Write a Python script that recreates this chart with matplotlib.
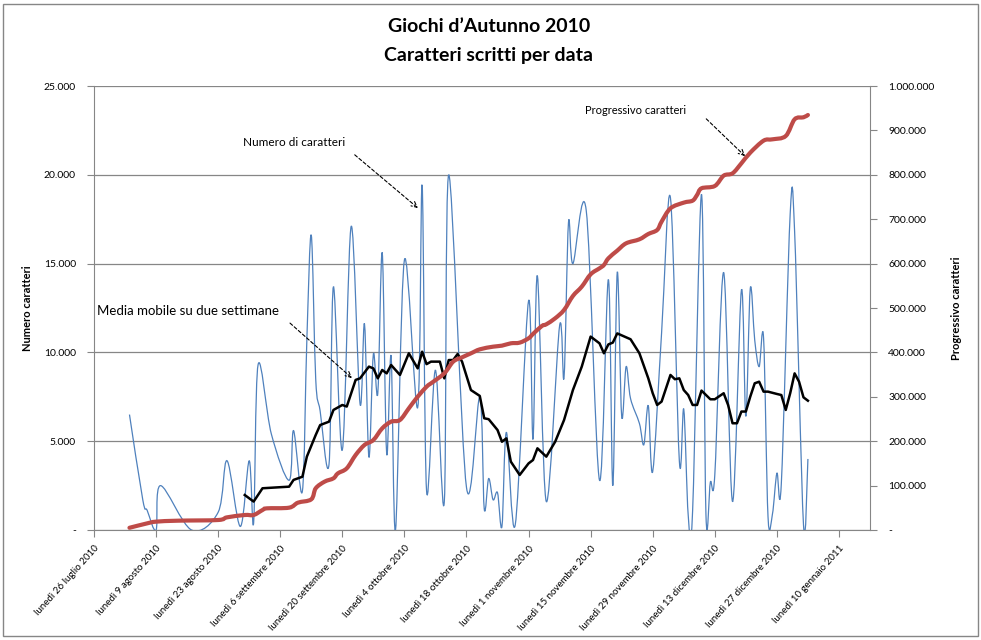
import matplotlib
matplotlib.use("Agg")
import matplotlib.pyplot as plt
import matplotlib.dates as mdates
from matplotlib.path import Path
from matplotlib.patches import PathPatch, Rectangle
from matplotlib.ticker import FuncFormatter, MultipleLocator
import numpy as np
import pandas as pd

plt.rcParams['font.family'] = ['Lato', 'DejaVu Sans']

# daily characters written
num_dates = [
    "2010-08-03", "2010-08-06", "2010-08-07", "2010-08-09", "2010-08-10", "2010-08-17",
    "2010-08-23", "2010-08-25", "2010-08-28", "2010-08-30", "2010-08-31", "2010-09-01",
    "2010-09-04", "2010-09-08", "2010-09-09", "2010-09-11", "2010-09-12", "2010-09-13",
    "2010-09-14", "2010-09-15", "2010-09-17", "2010-09-18", "2010-09-20", "2010-09-22",
    "2010-09-24", "2010-09-25", "2010-09-26", "2010-09-27", "2010-09-28", "2010-09-29",
    "2010-09-30", "2010-10-01", "2010-10-02", "2010-10-04", "2010-10-07", "2010-10-08",
    "2010-10-09", "2010-10-11", "2010-10-13", "2010-10-14", "2010-10-18", "2010-10-21",
    "2010-10-22", "2010-10-23", "2010-10-24", "2010-10-25", "2010-10-26", "2010-10-27",
    "2010-10-29", "2010-11-01", "2010-11-02", "2010-11-03", "2010-11-05", "2010-11-08",
    "2010-11-09", "2010-11-10", "2010-11-11", "2010-11-14", "2010-11-17", "2010-11-19",
    "2010-11-20", "2010-11-21", "2010-11-22", "2010-11-23", "2010-11-24", "2010-11-26",
    "2010-11-27", "2010-11-28", "2010-11-29", "2010-12-01", "2010-12-03", "2010-12-05",
    "2010-12-06", "2010-12-07", "2010-12-08", "2010-12-10", "2010-12-11", "2010-12-12",
    "2010-12-13", "2010-12-15", "2010-12-17", "2010-12-19", "2010-12-20", "2010-12-21",
    "2010-12-22", "2010-12-23", "2010-12-24", "2010-12-25", "2010-12-26", "2010-12-27",
    "2010-12-28", "2010-12-30", "2010-12-31", "2011-01-02", "2011-01-03",
]
num_values = [
    6500, 1700, 1100, 0, 2500, 0,
    1000, 3900, 200, 3900, 400, 9300,
    5400, 2800, 5600, 2200, 10700, 16600,
    8500, 6700, 3700, 13700, 4500, 17100,
    7100, 11600, 4100, 9900, 7700, 15600,
    4300, 9800, 0, 15200, 6900, 19400,
    2200, 9000, 1600, 20000, 2400, 7500,
    1200, 2900, 1700, 2100, 200, 5500,
    300, 12900, 5100, 14300, 1600, 11500,
    8600, 17300, 15000, 18000, 2800, 14100,
    2500, 14500, 6400, 9200, 7400, 6000,
    4800, 7000, 3300, 11100, 18700, 3900,
    6800, 850, 1100, 18900, 900, 2700,
    3100, 14500, 1600, 13500, 6400, 13600,
    10700, 9200, 10800, 750, 900, 3200,
    2600, 17800, 16800, 300, 4000,
]

# two-week moving average
avg_dates = [
    "2010-08-29", "2010-08-31", "2010-09-02", "2010-09-08", "2010-09-09", "2010-09-11",
    "2010-09-12", "2010-09-14", "2010-09-15", "2010-09-17", "2010-09-18", "2010-09-20",
    "2010-09-21", "2010-09-23", "2010-09-24", "2010-09-26", "2010-09-27", "2010-09-28",
    "2010-09-29", "2010-09-30", "2010-10-01", "2010-10-03", "2010-10-05", "2010-10-07",
    "2010-10-08", "2010-10-09", "2010-10-10", "2010-10-12", "2010-10-13", "2010-10-14",
    "2010-10-15", "2010-10-16", "2010-10-17", "2010-10-19", "2010-10-21", "2010-10-22",
    "2010-10-23", "2010-10-25", "2010-10-26", "2010-10-27", "2010-10-28", "2010-10-30",
    "2010-11-01", "2010-11-02", "2010-11-03", "2010-11-05", "2010-11-07", "2010-11-09",
    "2010-11-11", "2010-11-13", "2010-11-15", "2010-11-17", "2010-11-18", "2010-11-19",
    "2010-11-20", "2010-11-21", "2010-11-24", "2010-11-26", "2010-11-28", "2010-11-29",
    "2010-11-30", "2010-12-01", "2010-12-03", "2010-12-04", "2010-12-05", "2010-12-06",
    "2010-12-07", "2010-12-08", "2010-12-09", "2010-12-10", "2010-12-12", "2010-12-13",
    "2010-12-15", "2010-12-16", "2010-12-17", "2010-12-18", "2010-12-19", "2010-12-20",
    "2010-12-21", "2010-12-22", "2010-12-23", "2010-12-24", "2010-12-25", "2010-12-27",
    "2010-12-28", "2010-12-29", "2010-12-30", "2010-12-31", "2011-01-01", "2011-01-02",
    "2011-01-03",
]
avg_values = [
    1970, 1600, 2350, 2440, 2820, 3000,
    4130, 5350, 5910, 6100, 6760, 7040,
    6950, 8450, 8540, 9200, 9100, 8540,
    9010, 8820, 9290, 8730, 9950, 9100,
    10040, 9340, 9480, 9480, 8540, 9570,
    9570, 9910, 9480, 7880, 7550, 6290,
    6240, 5630, 4970, 5160, 3850, 3100,
    3750, 3940, 4600, 4130, 4970, 6190,
    7880, 9200, 10890, 10510, 9950, 10450,
    10550, 11070, 10740, 9950, 8540, 7700,
    7040, 7230, 8730, 8490, 8540, 7880,
    7600, 7040, 7040, 7850, 7360, 7360,
    7700, 7040, 6010, 6010, 6670, 6670,
    7510, 8260, 8350, 7790, 7790, 7660,
    7600, 6760, 7700, 8820, 8350, 7470,
    7280,
]

# running total of characters
tot_dates = [
    "2010-08-03", "2010-08-07", "2010-08-09", "2010-08-14", "2010-08-23", "2010-08-25",
    "2010-08-29", "2010-08-31", "2010-09-02", "2010-09-03", "2010-09-08", "2010-09-10",
    "2010-09-13", "2010-09-14", "2010-09-16", "2010-09-18", "2010-09-19", "2010-09-21",
    "2010-09-23", "2010-09-25", "2010-09-27", "2010-09-29", "2010-10-01", "2010-10-03",
    "2010-10-05", "2010-10-07", "2010-10-09", "2010-10-10", "2010-10-13", "2010-10-15",
    "2010-10-17", "2010-10-19", "2010-10-21", "2010-10-24", "2010-10-26", "2010-10-28",
    "2010-10-30", "2010-11-01", "2010-11-02", "2010-11-04", "2010-11-05", "2010-11-07",
    "2010-11-09", "2010-11-11", "2010-11-13", "2010-11-15", "2010-11-17", "2010-11-18",
    "2010-11-19", "2010-11-21", "2010-11-23", "2010-11-26", "2010-11-28", "2010-11-30",
    "2010-12-01", "2010-12-03", "2010-12-06", "2010-12-08", "2010-12-09", "2010-12-10",
    "2010-12-13", "2010-12-15", "2010-12-17", "2010-12-19", "2010-12-21", "2010-12-24",
    "2010-12-26", "2010-12-29", "2010-12-31", "2011-01-02", "2011-01-03",
]
tot_values = [
    5000, 15000, 18800, 21000, 22500, 28500,
    33800, 33800, 45000, 48800, 50300, 61600,
    69100, 93900, 108900, 116400, 127600, 138900,
    168900, 191500, 202700, 229000, 244000, 247800,
    274000, 300300, 322800, 330300, 352900, 379200,
    388900, 397900, 406900, 412900, 415200, 420500,
    422000, 431700, 441500, 459500, 463300, 476800,
    495500, 527100, 548100, 575900, 589400, 596900,
    611900, 629200, 645700, 654700, 666700, 675700,
    694500, 724500, 737300, 741800, 754600, 769600,
    774800, 798100, 803300, 825900, 849900, 876900,
    879900, 887400, 925000, 929500, 934700,
]

tick_labels = [
    "lunedì 26 luglio 2010", "lunedì 9 agosto 2010", "lunedì 23 agosto 2010",
    "lunedì 6 settembre 2010", "lunedì 20 settembre 2010", "lunedì 4 ottobre 2010",
    "lunedì 18 ottobre 2010", "lunedì 1 novembre 2010", "lunedì 15 novembre 2010",
    "lunedì 29 novembre 2010", "lunedì 13 dicembre 2010", "lunedì 27 dicembre 2010",
    "lunedì 10 gennaio 2011",
]

GRID = '#868686'
BLUE = '#4F81BD'
RED = '#BE4B48'


def smooth_path(x, y):
    """Excel-like smoothed line as a chain of cubic Bezier segments"""
    pts = np.column_stack([x, y])
    n = len(pts)
    verts = [pts[0]]
    codes = [Path.MOVETO]
    for i in range(n - 1):
        p0 = pts[i - 1] if i > 0 else pts[i]
        p1 = pts[i]
        p2 = pts[i + 1]
        p3 = pts[i + 2] if i + 2 < n else pts[i + 1]
        verts += [p1 + (p2 - p0) / 6, p2 - (p3 - p1) / 6, p2]
        codes += [Path.CURVE4] * 3
    return Path(verts, codes)


def it_thousands(v, pos):
    if abs(v) < 1e-9:
        return '-'
    return f"{int(round(v)):,}".replace(',', '.')


fig = plt.figure(figsize=(9.81, 6.4), dpi=100)
ax = fig.add_axes([94 / 981, 1 - 530 / 640, 776 / 981, 444 / 640])
ax2 = ax.twinx()

# frame around the whole chart
fig.patches.append(Rectangle((3 / 981, 4 / 640), 975 / 981, 632 / 640, transform=fig.transFigure,
                             fill=False, edgecolor=GRID, linewidth=1))

# blue daily series, smoothed
x_num = mdates.date2num(pd.to_datetime(num_dates))
ax.add_patch(PathPatch(smooth_path(x_num, np.array(num_values, float)), fill=False,
                       edgecolor=BLUE, linewidth=0.9, zorder=3))

# black moving average
ax.plot(pd.to_datetime(avg_dates), avg_values, color='black', linewidth=1.8, zorder=4)

# red running total on secondary axis
x_tot = mdates.date2num(pd.to_datetime(tot_dates))
ax2.add_patch(PathPatch(smooth_path(x_tot, np.array(tot_values, float)), fill=False,
                        edgecolor=RED, linewidth=3.0, capstyle='round', zorder=3))

# axes ranges
x0 = mdates.date2num(pd.Timestamp("2010-07-26"))
x1 = mdates.date2num(pd.Timestamp("2011-01-17"))
ax.set_xlim(x0, x1)
ax.set_ylim(0, 25000)
ax2.set_ylim(0, 1000000)

ax.yaxis.set_major_locator(MultipleLocator(5000))
ax2.yaxis.set_major_locator(MultipleLocator(100000))
ax.yaxis.set_major_formatter(FuncFormatter(it_thousands))
ax2.yaxis.set_major_formatter(FuncFormatter(it_thousands))

tick_pos = mdates.date2num(pd.date_range("2010-07-26", periods=len(tick_labels), freq="14D"))
ax.set_xticks(tick_pos)
ax.set_xticklabels(tick_labels, rotation=48, ha='right', va='top', rotation_mode='anchor',
                   fontsize=7)

ax.grid(axis='y', color=GRID, linewidth=0.9)
ax.set_axisbelow(True)

for a in (ax, ax2):
    a.spines['top'].set_visible(False)
    for s in ('left', 'right', 'bottom'):
        a.spines[s].set_color(GRID)
ax.spines['right'].set_visible(False)
ax2.spines['left'].set_visible(False)
ax2.spines['bottom'].set_visible(False)

ax.tick_params(axis='both', colors=GRID, labelcolor='black', length=5, labelsize=7.5)
ax.tick_params(axis='x', pad=5, labelsize=7)
ax.tick_params(axis='y', pad=8)
ax2.tick_params(axis='y', colors=GRID, labelcolor='black', length=5, labelsize=7.5, pad=8)

ax.set_ylabel("Numero caratteri", fontsize=8, fontweight='bold', labelpad=8)
ax2.set_ylabel("Progressivo caratteri", fontsize=8, fontweight='bold', labelpad=12)

# title
fig.text(489 / 981, 1 - 27 / 640, "Giochi d’Autunno 2010", ha='center', va='center',
         fontsize=14, fontweight='bold')
fig.text(489 / 981, 1 - 56 / 640, "Caratteri scritti per data", ha='center', va='center',
         fontsize=14, fontweight='bold')

# callouts
arrow = dict(arrowstyle='->', linestyle=(0, (3, 2)), color='black', linewidth=0.8,
             shrinkA=0, shrinkB=0)
ax2.text(0.192, 0.872, "Numero di caratteri", transform=ax2.transAxes, fontsize=8.5,
         va='center', ha='left')
ax2.annotate('', xy=(0.4175, 0.725), xytext=(0.336, 0.845), xycoords='axes fraction',
             textcoords='axes fraction', arrowprops=arrow)
ax2.text(0.004, 0.493, "Media mobile su due settimane", transform=ax2.transAxes, fontsize=9.5,
         va='center', ha='left')
ax2.annotate('', xy=(0.3325, 0.342), xytext=(0.2526, 0.466), xycoords='axes fraction',
             textcoords='axes fraction', arrowprops=arrow)
ax2.text(0.633, 0.944, "Progressivo caratteri", transform=ax2.transAxes, fontsize=8,
         va='center', ha='left')
ax2.annotate('', xy=(0.839, 0.842), xytext=(0.789, 0.926), xycoords='axes fraction',
             textcoords='axes fraction', arrowprops=arrow)

fig.savefig("out.png", dpi=100)
